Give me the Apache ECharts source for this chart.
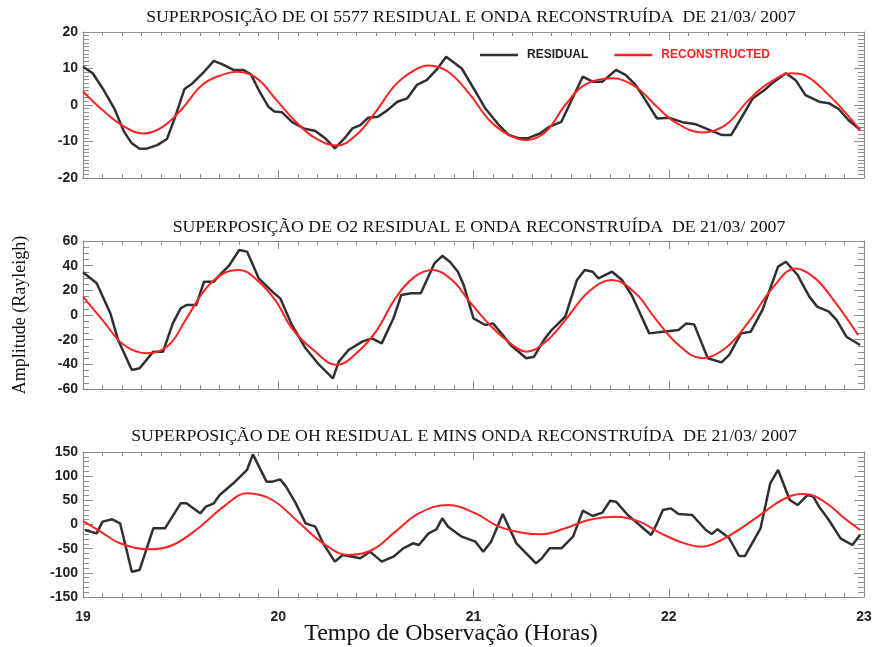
<!DOCTYPE html>
<html>
<head>
<meta charset="utf-8">
<script src="https://cdn.jsdelivr.net/npm/echarts@6/dist/echarts.min.js"></script>
<style>html,body{margin:0;padding:0;background:#fff}#c{width:876px;height:647px}</style>
</head>
<body>
<div id="c"></div>
<script>
// ---- Panel titles & axis texts ----
const titles = [
  'SUPERPOSIÇÃO DE OI 5577 RESIDUAL E ONDA RECONSTRUÍDA  DE 21/03/ 2007',
  'SUPERPOSIÇÃO DE O2 RESIDUAL E ONDA RECONSTRUÍDA  DE 21/03/ 2007',
  'SUPERPOSIÇÃO DE OH RESIDUAL E MINS ONDA RECONSTRUÍDA  DE 21/03/ 2007'
];
const yTitle = 'Amplitude (Rayleigh)';
const xTitle = 'Tempo de Observação (Horas)';
const legendNames = ['RESIDUAL', 'RECONSTRUCTED'];
const xTicks = [19, 20, 21, 22, 23];
const yRanges = [[-20, 20, 10, 10], [-60, 60, 20, 4], [-150, 150, 50, 5]];

// ---- OI 5577 ----
const oiResT = [19.00,19.05,19.10,19.16,19.21,19.25,19.29,19.33,19.38,19.43,19.47,19.52,19.56,19.62,19.67,19.72,19.77,19.82,19.86,19.90,19.95,19.98,20.02,20.07,20.13,20.19,20.24,20.29,20.34,20.38,20.42,20.46,20.51,20.56,20.61,20.66,20.71,20.76,20.81,20.86,20.94,21.01,21.06,21.13,21.18,21.23,21.28,21.34,21.39,21.45,21.56,21.61,21.66,21.73,21.78,21.83,21.88,21.94,22.00,22.07,22.14,22.22,22.27,22.32,22.37,22.43,22.49,22.54,22.60,22.65,22.70,22.77,22.82,22.87,22.92,22.98];
const oiResV = [10.5,8.7,4.6,-0.9,-7.3,-10.5,-12,-11.9,-11,-9.3,-3.6,4.4,5.9,9.1,12.1,11,9.6,9.6,8.4,4.1,-0.5,-1.8,-2,-4.6,-6.4,-7.1,-9.1,-11.9,-9.1,-6.4,-5.5,-3.5,-3.2,-1.4,0.9,1.8,5.5,6.8,9.6,13.2,10,3.7,-0.9,-5.5,-8.2,-9.1,-9.1,-7.8,-5.9,-4.6,7.8,6.4,6.4,9.6,8.2,5.5,1.4,-3.7,-3.5,-4.7,-5.3,-7.1,-8.2,-8.2,-3.7,1.8,4.1,6.4,8.7,6.8,2.7,0.9,0.5,-1.1,-4.1,-6.8];
const oiRecT = [19.00,19.10,19.21,19.31,19.41,19.51,19.61,19.72,19.79,19.89,19.99,20.09,20.19,20.30,20.40,20.50,20.60,20.70,20.77,20.87,20.98,21.08,21.18,21.27,21.37,21.47,21.57,21.71,21.83,21.93,22.03,22.17,22.29,22.41,22.51,22.63,22.71,22.82,22.90,22.98];
const oiRecV = [3.7,-1.4,-5.9,-7.8,-5.9,-0.9,5.5,8.4,9.1,7.3,1.4,-4.6,-9.1,-11.1,-8.2,-1.8,5.5,9.6,10.8,9.1,3.0,-4.1,-8.2,-9.6,-7.3,0,5.5,7.3,5.0,0,-4.6,-7.5,-5.5,1.4,5.9,8.7,7.8,2.7,-1.8,-6.8];

// ---- O2 ----
const o2ResT = [19.00,19.07,19.14,19.18,19.25,19.29,19.36,19.41,19.46,19.50,19.53,19.58,19.62,19.67,19.70,19.75,19.80,19.84,19.90,19.97,20.01,20.07,20.14,20.21,20.28,20.31,20.36,20.43,20.48,20.53,20.59,20.63,20.68,20.73,20.80,20.84,20.88,20.92,20.95,21.00,21.06,21.10,21.15,21.19,21.27,21.31,21.36,21.40,21.47,21.53,21.57,21.61,21.64,21.71,21.76,21.81,21.90,21.97,22.05,22.09,22.13,22.20,22.27,22.31,22.37,22.42,22.48,22.56,22.60,22.66,22.72,22.76,22.82,22.86,22.91,22.98];
const o2ResV = [34.6,25.7,1.4,-20.3,-44.6,-43.2,-29.7,-29.7,-6.8,5.4,8.1,8.1,27,27,32.4,40.5,52.7,51.4,29.7,18.9,13.5,-8.1,-27,-40.5,-51.4,-37.8,-28.4,-21.6,-18.9,-23,-2.7,16.2,17.6,17.6,41.9,48,43,35.1,24.3,-2.7,-8.1,-6.8,-16.2,-24.3,-35.1,-33.8,-20.3,-12.2,-1.4,28.4,36.5,35.1,29.7,35.1,28.4,16.2,-14.9,-13.5,-12.2,-6.8,-7.6,-35.1,-38.4,-32.4,-14.9,-13.5,4.1,39.2,43.2,32.4,14.9,6.8,2.7,-4.1,-17.6,-24.3];
const o2RecT = [19.00,19.10,19.21,19.33,19.44,19.53,19.63,19.72,19.80,19.90,19.99,20.07,20.18,20.30,20.40,20.50,20.60,20.70,20.79,20.89,20.98,21.10,21.20,21.27,21.37,21.47,21.59,21.71,21.83,21.93,22.05,22.17,22.29,22.41,22.53,22.65,22.75,22.85,22.97];
const o2RecV = [14.9,-4.1,-24.3,-31.1,-24.3,-2.7,21.6,33.8,36.5,27,10.8,-10.8,-28.4,-40.5,-31.1,-13.5,13.5,31.1,36.5,28.4,10.8,-10.8,-24.3,-29.7,-21.6,-4.1,18.9,28.4,17.6,-2.7,-24.3,-35.1,-27,-5.4,21.6,37.8,29.7,10.8,-16.2];

// ---- OH ----
const ohResT = [19.01,19.07,19.10,19.15,19.19,19.25,19.29,19.36,19.42,19.50,19.53,19.60,19.63,19.67,19.70,19.77,19.84,19.87,19.94,19.97,20.01,20.04,20.09,20.14,20.19,20.23,20.29,20.33,20.38,20.42,20.47,20.53,20.59,20.64,20.69,20.72,20.77,20.81,20.84,20.87,20.94,21.01,21.05,21.09,21.15,21.22,21.27,21.32,21.35,21.39,21.45,21.51,21.56,21.61,21.66,21.70,21.73,21.79,21.86,21.91,21.94,21.97,22.01,22.05,22.12,22.19,22.22,22.25,22.31,22.36,22.39,22.47,22.52,22.56,22.62,22.66,22.71,22.74,22.77,22.82,22.88,22.94,22.98];
const ohResV = [-11.4,-18.3,5.9,10.7,2.4,-97.6,-94.1,-7.9,-7.9,43.8,43.8,23.1,36.9,43.8,61,85.2,112.8,145,88.6,88.6,93.4,78.3,43.8,2.4,-4.5,-38.9,-76.9,-63.1,-66.6,-70,-56.2,-76.9,-66.6,-49.3,-38.9,-42.4,-18.3,-10,12.8,-4.5,-25.2,-35.5,-56.2,-35.5,21.7,-39,-59.7,-80.3,-70,-49.3,-49.3,-25.2,28.6,17.6,24.5,49.3,47.2,19.7,-4.5,-21.7,2.4,30,33.4,21.7,19.7,-11.4,-19.7,-10,-28.6,-65.2,-65.2,-7.9,85.2,112.8,50.7,40.3,61,57.6,36.9,9.3,-28.6,-42.4,-21.7];
const ohRecT = [19.00,19.09,19.19,19.34,19.46,19.60,19.72,19.84,19.97,20.11,20.23,20.36,20.48,20.60,20.72,20.87,21.01,21.13,21.25,21.35,21.47,21.59,21.73,21.85,21.96,22.07,22.17,22.27,22.37,22.48,22.58,22.68,22.73,22.82,22.90,22.98];
const ohRecV = [7.2,-14.8,-38.9,-51.4,-42.4,-4.5,36.9,64.5,50.7,2.4,-38.9,-63.1,-52.8,-14.8,23.1,40.3,23.1,-4.5,-16.9,-20.3,-7.9,9.3,16.2,5.9,-18.3,-37.6,-45.9,-32.1,-7.9,23.1,50.7,63.1,61,40.3,12.8,-11.4];

const pair = (t, v) => t.map((x, i) => [x, v[i]]);
const panels = [
  {res: pair(oiResT, oiResV), rec: pair(oiRecT, oiRecV)},
  {res: pair(o2ResT, o2ResV), rec: pair(o2RecT, o2RecV)},
  {res: pair(ohResT, ohResV), rec: pair(ohRecT, ohRecV)}
];

const gridPos = [{top: 32, height: 146}, {top: 241, height: 148}, {top: 452, height: 145}];
const frameColor = '#8c8c8c';
const labelFont = {fontFamily: 'Liberation Sans, Arial, sans-serif', fontWeight: 'bold', fontSize: 14, color: '#222'};

const grid = [], xAxis = [], yAxis = [], series = [];
gridPos.forEach((g, i) => {
  grid.push({left: 83, right: 12, top: g.top, height: g.height, show: false});
  ['bottom', 'top'].forEach(pos => {
    xAxis.push({
      type: 'value', gridIndex: i, position: pos, min: xTicks[0], max: xTicks[xTicks.length - 1], interval: 1,
      axisLine: {show: true, onZero: false, lineStyle: {color: frameColor, width: 1.2}},
      axisTick: {show: true, inside: true, length: 8, lineStyle: {color: frameColor}},
      minorTick: {show: true, splitNumber: 10, length: 4, lineStyle: {color: frameColor}},
      splitLine: {show: false}, minorSplitLine: {show: false},
      axisLabel: {show: pos === 'bottom' && i === 2, margin: 13, ...labelFont}
    });
  });
  const r = yRanges[i];
  ['left', 'right'].forEach(pos => {
    yAxis.push({
      type: 'value', gridIndex: i, position: pos, min: r[0], max: r[1], interval: r[2],
      axisLine: {show: true, onZero: false, lineStyle: {color: frameColor, width: 1.2}},
      axisTick: {show: true, inside: true, length: 10, lineStyle: {color: frameColor}},
      minorTick: {show: true, splitNumber: r[3], length: 6, lineStyle: {color: frameColor}},
      splitLine: {show: false}, minorSplitLine: {show: false},
      axisLabel: {show: pos === 'left', margin: 5, ...labelFont}
    });
  });
  series.push({
    name: legendNames[0], type: 'line', xAxisIndex: 2 * i, yAxisIndex: 2 * i,
    data: panels[i].res, showSymbol: false, symbol: 'none',
    lineStyle: {color: '#303030', width: 2.5}, itemStyle: {color: '#303030'}, z: 2
  });
  series.push({
    name: legendNames[1], type: 'line', xAxisIndex: 2 * i, yAxisIndex: 2 * i,
    data: panels[i].rec, showSymbol: false, symbol: 'none', smooth: 0.4,
    lineStyle: {color: '#ff2222', width: 2}, itemStyle: {color: '#ff2222'}, z: 3
  });
});

const titleY = [18, 228, 437];
const titleX = [471, 479, 464];
const serif = '"Liberation Serif", "Times New Roman", serif';
const graphic = titles.map((t, i) => ({
  type: 'text', x: titleX[i], y: titleY[i], scaleX: 1.11,
  style: {text: t, fill: '#111', font: '16px ' + serif, textAlign: 'center', textVerticalAlign: 'middle'}
}));
graphic.push({
  type: 'text', x: 20, y: 315, rotation: Math.PI / 2,
  style: {text: yTitle, fill: '#111', font: '18px ' + serif, textAlign: 'center', textVerticalAlign: 'middle'}
});
graphic.push({
  type: 'text', x: 451, y: 634,
  style: {text: xTitle, fill: '#111', font: '24px ' + serif, textAlign: 'center', textVerticalAlign: 'middle'}
});

const chart = echarts.init(document.getElementById('c'), null, {renderer: 'canvas'});
chart.setOption({
  animation: false,
  backgroundColor: '#fff',
  grid, xAxis, yAxis, series, graphic,
  legend: {
    left: 475, top: 44, icon: 'rect', itemWidth: 38, itemHeight: 2.5, itemGap: 26,
    textStyle: {fontFamily: 'Liberation Sans, Arial, sans-serif', fontWeight: 'bold', fontSize: 12, padding: [0, 0, 0, 4]},
    data: [
      {name: legendNames[0], textStyle: {color: '#222'}},
      {name: legendNames[1], textStyle: {color: '#ff2222'}}
    ]
  }
});
</script>
</body>
</html>
